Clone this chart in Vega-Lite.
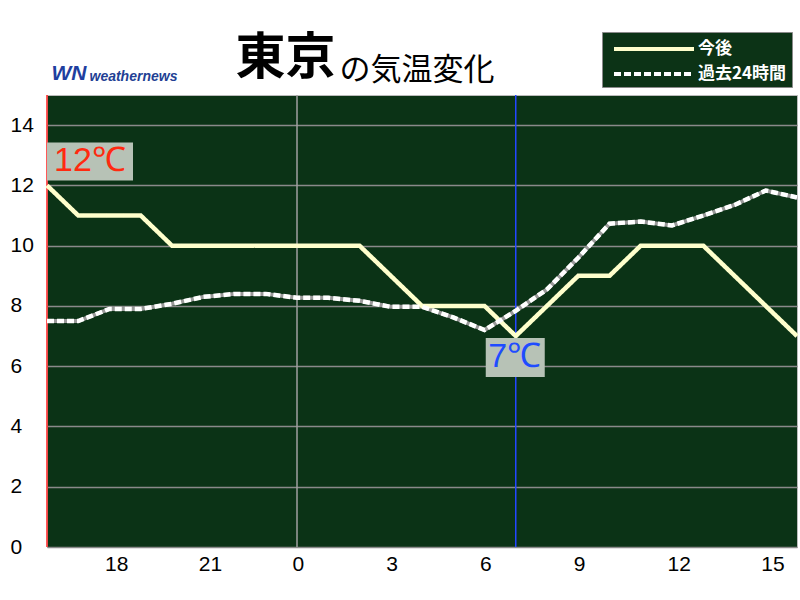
{
  "$schema": "https://vega.github.io/schema/vega-lite/v6.json",
  "width": 750,
  "height": 452,
  "autosize": {"type": "none"},
  "padding": {"left": 47, "top": 95, "right": 3, "bottom": 53},
  "background": "white",
  "config": {
    "font": "Noto Sans CJK JP",
    "view": {"fill": "#0b3316", "stroke": "#bbbbbb", "strokeWidth": 1}
  },
  "datasets": {
    "temps": [
      {"t": 0, "hour": 16, "series": "今後", "temp": 12},
      {"t": 1, "hour": 17, "series": "今後", "temp": 11},
      {"t": 2, "hour": 18, "series": "今後", "temp": 11},
      {"t": 3, "hour": 19, "series": "今後", "temp": 11},
      {"t": 4, "hour": 20, "series": "今後", "temp": 10},
      {"t": 5, "hour": 21, "series": "今後", "temp": 10},
      {"t": 6, "hour": 22, "series": "今後", "temp": 10},
      {"t": 7, "hour": 23, "series": "今後", "temp": 10},
      {"t": 8, "hour": 0, "series": "今後", "temp": 10},
      {"t": 9, "hour": 1, "series": "今後", "temp": 10},
      {"t": 10, "hour": 2, "series": "今後", "temp": 10},
      {"t": 11, "hour": 3, "series": "今後", "temp": 9},
      {"t": 12, "hour": 4, "series": "今後", "temp": 8},
      {"t": 13, "hour": 5, "series": "今後", "temp": 8},
      {"t": 14, "hour": 6, "series": "今後", "temp": 8},
      {"t": 15, "hour": 7, "series": "今後", "temp": 7},
      {"t": 16, "hour": 8, "series": "今後", "temp": 8},
      {"t": 17, "hour": 9, "series": "今後", "temp": 9},
      {"t": 18, "hour": 10, "series": "今後", "temp": 9},
      {"t": 19, "hour": 11, "series": "今後", "temp": 10},
      {"t": 20, "hour": 12, "series": "今後", "temp": 10},
      {"t": 21, "hour": 13, "series": "今後", "temp": 10},
      {"t": 22, "hour": 14, "series": "今後", "temp": 9},
      {"t": 23, "hour": 15, "series": "今後", "temp": 8},
      {"t": 24, "hour": 16, "series": "今後", "temp": 7},
      {"t": 0, "hour": 16, "series": "過去24時間", "temp": 7.5},
      {"t": 1, "hour": 17, "series": "過去24時間", "temp": 7.5},
      {"t": 2, "hour": 18, "series": "過去24時間", "temp": 7.9},
      {"t": 3, "hour": 19, "series": "過去24時間", "temp": 7.9},
      {"t": 4, "hour": 20, "series": "過去24時間", "temp": 8.07},
      {"t": 5, "hour": 21, "series": "過去24時間", "temp": 8.3},
      {"t": 6, "hour": 22, "series": "過去24時間", "temp": 8.4},
      {"t": 7, "hour": 23, "series": "過去24時間", "temp": 8.4},
      {"t": 8, "hour": 0, "series": "過去24時間", "temp": 8.27},
      {"t": 9, "hour": 1, "series": "過去24時間", "temp": 8.27},
      {"t": 10, "hour": 2, "series": "過去24時間", "temp": 8.17},
      {"t": 11, "hour": 3, "series": "過去24時間", "temp": 7.97},
      {"t": 12, "hour": 4, "series": "過去24時間", "temp": 7.97},
      {"t": 13, "hour": 5, "series": "過去24時間", "temp": 7.62},
      {"t": 14, "hour": 6, "series": "過去24時間", "temp": 7.2},
      {"t": 15, "hour": 7, "series": "過去24時間", "temp": 7.84},
      {"t": 16, "hour": 8, "series": "過去24時間", "temp": 8.55},
      {"t": 17, "hour": 9, "series": "過去24時間", "temp": 9.6},
      {"t": 18, "hour": 10, "series": "過去24時間", "temp": 10.73},
      {"t": 19, "hour": 11, "series": "過去24時間", "temp": 10.8},
      {"t": 20, "hour": 12, "series": "過去24時間", "temp": 10.67},
      {"t": 21, "hour": 13, "series": "過去24時間", "temp": 11.0},
      {"t": 22, "hour": 14, "series": "過去24時間", "temp": 11.35},
      {"t": 23, "hour": 15, "series": "過去24時間", "temp": 11.83},
      {"t": 24, "hour": 16, "series": "過去24時間", "temp": 11.6}
    ],
    "extremes": [
      {"t": 0, "temp": 12, "kind": "max", "label": "12℃"},
      {"t": 15, "temp": 7, "kind": "min", "label": "7℃"}
    ]
  },
  "layer": [
    {
      "data": {"name": "temps"},
      "transform": [{"filter": "datum.series === '過去24時間'"}],
      "mark": {"type": "line", "color": "#9a9a9a", "strokeWidth": 4},
      "encoding": {
        "x": {"field": "t", "type": "quantitative"},
        "y": {
          "field": "temp",
          "type": "quantitative",
          "scale": {"domain": [0, 15], "nice": false},
          "axis": {
            "values": [0, 2, 4, 6, 8, 10, 12, 14],
            "grid": true,
            "gridColor": "#8a8a8a",
            "gridWidth": 1.5,
            "domain": false,
            "ticks": false,
            "labelAlign": "left",
            "labelBaseline": "middle",
            "labelPadding": 37,
            "labelFontSize": 21,
            "labelFont": "Liberation Sans",
            "labelColor": "black",
            "title": "の気温変化",
            "titleAngle": 0,
            "titleAlign": "left",
            "titleBaseline": "alphabetic",
            "titleX": 292,
            "titleY": -16,
            "titleFontSize": 31,
            "titleFontWeight": "normal",
            "titleColor": "black"
          }
        }
      }
    },
    {
      "data": {"values": [{}]},
      "mark": {"type": "rule", "color": "#a0a0a0", "strokeWidth": 1.5},
      "encoding": {"x": {"datum": 8, "type": "quantitative"}}
    },
    {
      "data": {"values": [{}]},
      "mark": {"type": "rule", "color": "#2447ff", "strokeWidth": 1.5},
      "encoding": {"x": {"datum": 15, "type": "quantitative"}}
    },
    {
      "data": {"values": [{}]},
      "mark": {"type": "rule", "color": "#ff2020", "strokeWidth": 1.5},
      "encoding": {"x": {"datum": 0, "type": "quantitative"}}
    },
    {
      "data": {"name": "temps"},
      "mark": {"type": "line", "strokeWidth": 4.5},
      "encoding": {
        "x": {
          "field": "t",
          "type": "quantitative",
          "scale": {"domain": [0, 24], "nice": false},
          "axis": {
            "values": [2, 5, 8, 11, 14, 17, 20, 23],
            "labelExpr": "'' + ((datum.value + 16) % 24)",
            "grid": false,
            "domain": false,
            "ticks": false,
            "labelAlign": "left",
            "labelOffset": -5,
            "labelFontSize": 21,
            "labelFont": "Liberation Sans",
            "labelColor": "black",
            "labelPadding": 6,
            "title": "weathernews",
            "titleX": 42,
            "titleY": -467,
            "titleAlign": "left",
            "titleBaseline": "alphabetic",
            "titleFontSize": 14,
            "titleFont": "Liberation Sans",
            "titleFontStyle": "italic",
            "titleFontWeight": "bold",
            "titleColor": "#233f94"
          }
        },
        "y": {"field": "temp", "type": "quantitative", "axis": null},
        "color": {
          "field": "series",
          "type": "nominal",
          "scale": {"domain": ["今後", "過去24時間"], "range": ["#ffffcc", "#ffffff"]},
          "legend": {
            "title": null,
            "orient": "none",
            "legendX": 555,
            "legendY": -63,
            "direction": "vertical",
            "fillColor": "#0c3316",
            "strokeColor": "#8a8a8a",
            "padding": 5,
            "symbolType": "M-1,0H7",
            "symbolSize": 400,
            "symbolOffset": 5,
            "symbolStrokeWidth": 4,
            "labelColor": "white",
            "labelFontSize": 17,
            "labelFontWeight": "bold",
            "labelOffset": 62,
            "rowPadding": 5
          }
        },
        "strokeDash": {
          "field": "series",
          "type": "nominal",
          "scale": {"domain": ["今後", "過去24時間"], "range": [[1, 0], [7, 3]]},
          "legend": {
            "title": null,
            "orient": "none",
            "legendX": 555,
            "legendY": -63,
            "direction": "vertical",
            "fillColor": "#0c3316",
            "strokeColor": "#8a8a8a",
            "padding": 5,
            "symbolType": "M-1,0H7",
            "symbolSize": 400,
            "symbolOffset": 5,
            "symbolStrokeWidth": 4,
            "labelColor": "white",
            "labelFontSize": 17,
            "labelFontWeight": "bold",
            "labelOffset": 62,
            "rowPadding": 5
          }
        }
      }
    },
    {
      "data": {"name": "extremes"},
      "transform": [{"filter": "datum.kind === 'max'"}],
      "mark": {"type": "rect", "fill": "#b7c2b6", "xOffset": 0, "x2Offset": 86, "yOffset": -43, "y2Offset": -5},
      "encoding": {
        "x": {"field": "t", "type": "quantitative"},
        "x2": {"field": "t"},
        "y": {"field": "temp", "type": "quantitative", "axis": null},
        "y2": {"field": "temp"}
      }
    },
    {
      "data": {"name": "extremes"},
      "transform": [{"filter": "datum.kind === 'max'"}],
      "mark": {"type": "text", "color": "#ff2a10", "fontSize": 34, "font": "Liberation Sans", "align": "center", "baseline": "middle", "dx": 43, "dy": -24},
      "encoding": {
        "x": {"field": "t", "type": "quantitative"},
        "y": {"field": "temp", "type": "quantitative", "axis": null},
        "text": {"field": "label"}
      }
    },
    {
      "data": {"name": "extremes"},
      "transform": [{"filter": "datum.kind === 'min'"}],
      "mark": {"type": "rect", "fill": "#b7c2b6", "xOffset": -30, "x2Offset": 29, "yOffset": 2, "y2Offset": 41},
      "encoding": {
        "x": {"field": "t", "type": "quantitative"},
        "x2": {"field": "t"},
        "y": {"field": "temp", "type": "quantitative", "axis": null},
        "y2": {"field": "temp"}
      }
    },
    {
      "data": {"name": "extremes"},
      "transform": [{"filter": "datum.kind === 'min'"}],
      "mark": {"type": "text", "color": "#1f4cff", "fontSize": 34, "font": "Liberation Sans", "align": "center", "baseline": "middle", "dx": -1, "dy": 21},
      "encoding": {
        "x": {"field": "t", "type": "quantitative"},
        "y": {"field": "temp", "type": "quantitative", "axis": null},
        "text": {"field": "label"}
      }
    },
    {
      "data": {"values": [{}]},
      "mark": {"type": "rule", "strokeOpacity": 0},
      "encoding": {
        "y": {
          "datum": 0,
          "type": "quantitative",
          "axis": {
            "orient": "right",
            "labels": false,
            "ticks": false,
            "domain": false,
            "grid": false,
            "title": "WN",
            "titleAngle": 0,
            "titleAlign": "left",
            "titleBaseline": "alphabetic",
            "titleX": -746,
            "titleY": -16,
            "titleFontSize": 21,
            "titleFont": "Liberation Sans",
            "titleFontWeight": "bold",
            "titleFontStyle": "italic",
            "titleColor": "#1f3fa0"
          }
        }
      }
    },
    {
      "data": {"values": [{}]},
      "mark": {"type": "rule", "strokeOpacity": 0},
      "encoding": {
        "y": {
          "datum": 0,
          "type": "quantitative",
          "axis": {
            "orient": "left",
            "labels": false,
            "ticks": false,
            "domain": false,
            "grid": false,
            "title": "東京",
            "titleAngle": 0,
            "titleAlign": "left",
            "titleBaseline": "alphabetic",
            "titleX": 188,
            "titleY": -22,
            "titleFontSize": 50,
            "titleFontWeight": "bold",
            "titleColor": "black"
          }
        }
      }
    }
  ],
  "resolve": {"axis": {"y": "independent"}}
}
